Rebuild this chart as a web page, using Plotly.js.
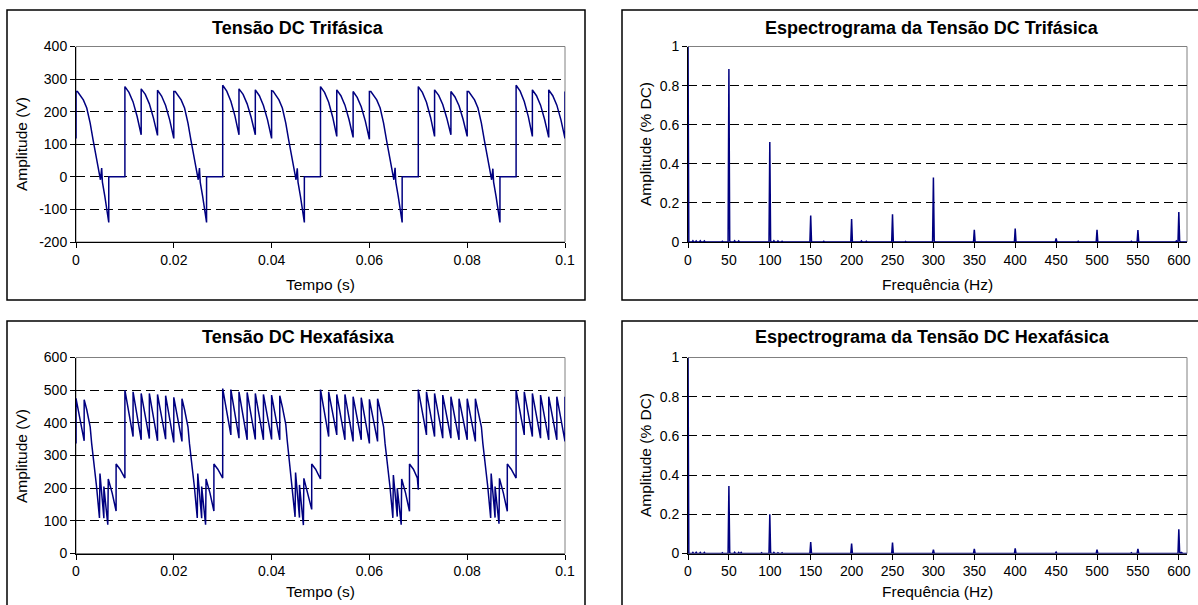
<!DOCTYPE html>
<html><head><meta charset="utf-8">
<script src="https://cdn.plot.ly/plotly-3.0.1.min.js"></script>
<style>html,body{margin:0;padding:0;background:#fff;}#chart{width:1198px;height:605px;}</style>
</head><body><div id="chart"></div>
<script>
// ---------- DATA ----------
// Tensão DC Trifásica : time (s) and amplitude (V)
const triT = [
 0,0,0.0003,0.0008,0.0015,0.0022,0.0029,0.0035,0.0042,0.0048,0.0050,0.00525,0.0054,0.0059,0.0063,0.0067,0.0067,0.0100,
 0.0100,0.01083,0.01167,0.0125,0.01333, 0.01333,0.01417,0.015,0.01583,0.01667, 0.01667,0.0175,0.01833,0.01917,0.0200,
 0.0200,0.0203,0.0208,0.0215,0.0222,0.0229,0.0235,0.0242,0.0248,0.0250,0.02525,0.0254,0.0259,0.0263,0.0267,0.0267,0.0300,
 0.0300,0.03083,0.03167,0.0325,0.03333, 0.03333,0.03417,0.035,0.03583,0.03667, 0.03667,0.0375,0.03833,0.03917,0.0400,
 0.0400,0.0403,0.0408,0.0415,0.0422,0.0429,0.0435,0.0442,0.0448,0.0450,0.04525,0.0454,0.0459,0.0463,0.0467,0.0467,0.0500,
 0.0500,0.05083,0.05167,0.0525,0.05333, 0.05333,0.05417,0.055,0.05583,0.05667, 0.05667,0.0575,0.05833,0.05917,0.0600,
 0.0600,0.0603,0.0608,0.0615,0.0622,0.0629,0.0635,0.0642,0.0648,0.0650,0.06525,0.0654,0.0659,0.0663,0.0667,0.0667,0.0700,
 0.0700,0.07083,0.07167,0.0725,0.07333, 0.07333,0.07417,0.075,0.07583,0.07667, 0.07667,0.0775,0.07833,0.07917,0.0800,
 0.0800,0.0803,0.0808,0.0815,0.0822,0.0829,0.0835,0.0842,0.0848,0.0850,0.08525,0.0854,0.0859,0.0863,0.0867,0.0867,0.0900,
 0.0900,0.09083,0.09167,0.0925,0.09333, 0.09333,0.09417,0.095,0.09583,0.09667, 0.09667,0.0975,0.09833,0.09917,0.1000,
 0.1000
];
const triV = [
 118,262,262,251,236,211,165,113,57,16,-9,27,-16,-60,-100,-140,0,0,
 277,259,230,185,129, 270,253,224,181,127, 266,248,219,174,118,
 262,262,251,236,211,165,113,57,16,-9,27,-16,-60,-100,-140,0,0,
 281,263,232,187,129, 270,253,224,182,129, 267,249,219,175,118,
 264,263,252,236,211,165,113,57,16,-9,26,-16,-60,-100,-140,0,0,
 277,259,229,183,124, 267,249,220,176,121, 262,244,215,171,115,
 262,262,251,236,211,165,113,57,16,-9,28,-16,-60,-100,-140,0,0,
 277,259,229,183,124, 267,250,222,180,129, 262,245,218,176,124,
 262,262,251,236,211,165,113,57,16,-9,25,-16,-60,-100,-140,0,0,
 281,263,231,185,124, 267,249,220,176,121, 267,249,220,175,118,
 262
];

// Tensão DC Hexafásixa : time (s) and amplitude (V)
const hexT = [
 0,0,0.00167,0.00167,0.0022,0.0029,0.0032,0.0035,0.0039,0.0042,0.0048,
 0.0049,0.0057,0.0057,0.0065,0.0066,0.0074,0.0082,0.0082,0.0090,0.0100,
 0.0100,0.01167,0.01167,0.01333,0.01333,0.015,0.015,0.01667,0.01667,0.01833,0.01833,0.02,0.02,0.02167,0.02167,
 0.0222,0.0229,0.0232,0.0235,0.0239,0.0242,0.0248,
 0.0249,0.0257,0.0257,0.0265,0.0266,0.0274,0.0282,0.0282,0.0290,0.0300,
 0.0300,0.03167,0.03167,0.03333,0.03333,0.035,0.035,0.03667,0.03667,0.03833,0.03833,0.04,0.04,0.04167,0.04167,
 0.0422,0.0429,0.0432,0.0435,0.0439,0.0442,0.0448,
 0.0449,0.0457,0.0457,0.0465,0.0466,0.0474,0.0482,0.0482,0.0490,0.0500,
 0.0500,0.05167,0.05167,0.05333,0.05333,0.055,0.055,0.05667,0.05667,0.05833,0.05833,0.06,0.06,0.06167,0.06167,
 0.0622,0.0629,0.0632,0.0635,0.0639,0.0642,0.0648,
 0.0649,0.0657,0.0657,0.0665,0.0666,0.0674,0.0682,0.0682,0.0690,0.0698,0.0700,
 0.0700,0.07167,0.07167,0.07333,0.07333,0.075,0.075,0.07667,0.07667,0.07833,0.07833,0.08,0.08,0.08167,0.08167,
 0.0822,0.0829,0.0832,0.0835,0.0839,0.0842,0.0848,
 0.0849,0.0857,0.0857,0.0865,0.0866,0.0874,0.0882,0.0882,0.0890,0.0900,
 0.0900,0.09167,0.09167,0.09333,0.09333,0.095,0.095,0.09667,0.09667,0.09833,0.09833,0.1,0.1
];
const hexV = [
 337,475,345,471,440,388,337,296,256,205,109,
 245,108,205,88,228,185,130,274,258,231,
 500,358,495,348,490,352,490,345,487,350,483,340,478,343,474,
 440,388,337,296,256,205,109,
 245,108,205,88,228,185,130,274,258,231,
 505,363,502,353,495,348,493,349,490,348,487,349,485,348,483,
 449,395,345,300,258,207,112,
 248,110,210,87,230,185,135,274,258,228,
 502,358,495,363,487,348,487,343,480,348,477,337,472,343,474,
 440,388,337,296,256,205,109,
 240,113,200,88,228,185,129,274,258,231,195,
 502,363,495,358,490,353,485,353,480,348,474,348,474,343,474,
 440,388,337,296,256,205,109,
 245,110,205,91,230,185,129,274,258,231,
 500,363,495,358,490,353,485,348,480,348,480,343,480
];

// Espectrograma da Tensão DC Trifásica : frequency (Hz) and amplitude (% DC)
const triFreq = [0,1, 5,6,7, 9,10,11, 14,15,16, 19,20,21, 41,42,43, 49,50,51,52, 56,57,58, 61,62,63,
 99,100,101,102, 104,105,106, 109,110,111, 114,115,116, 149,150,151, 165,166,167, 199,200,201, 211,212,213,
 217,218,219, 249,250,251, 265,266,267, 299,300,301,302, 349,350,351, 399,400,401, 449,450,451, 476,477,478,
 499,500,501, 541,542,543, 549,550,551, 596,597,598, 599,600,601,602, 610];
const triAmp = [1,0, 0,0.006,0, 0,0.005,0, 0,0.006,0, 0,0.005,0, 0,0.004,0, 0,0.885,0.005,0, 0,0.006,0, 0,0.005,0,
 0,0.512,0.005,0, 0,0.006,0, 0,0.005,0, 0,0.004,0, 0,0.136,0, 0,0.004,0, 0,0.117,0, 0,0.005,0,
 0,0.004,0, 0,0.142,0, 0,0.003,0, 0,0.33,0.005,0, 0,0.063,0, 0,0.069,0, 0,0.019,0, 0,0.004,0,
 0,0.063,0, 0,0.004,0, 0,0.061,0, 0,0.005,0, 0,0.153,0.006,0, 0];

// Espectrograma da Tensão DC Hexafásica : frequency (Hz) and amplitude (% DC)
const hexFreq = [0,1, 5,6,7, 9,10,11, 14,15,16, 19,20,21, 41,42,43, 49,50,51,52, 56,57,58, 61,62,63, 64,65,66,
 89,90,91, 99,100,101,102, 104,105,106, 109,110,111, 114,115,116, 149,150,151, 165,166,167, 199,200,201,
 249,250,251, 299,300,301, 349,350,351, 399,400,401, 449,450,451, 499,500,501, 541,542,543, 549,550,551,
 599,600,601,602,603,604,605, 610];
const hexAmp = [1,0, 0,0.005,0, 0,0.006,0, 0,0.005,0, 0,0.005,0, 0,0.004,0, 0,0.344,0.005,0, 0,0.006,0, 0,0.005,0, 0,0.005,0,
 0,0.004,0, 0,0.2,0.005,0, 0,0.005,0, 0,0.004,0, 0,0.004,0, 0,0.058,0, 0,0.003,0, 0,0.051,0,
 0,0.056,0, 0,0.019,0, 0,0.024,0, 0,0.026,0, 0,0.007,0, 0,0.019,0, 0,0.004,0, 0,0.024,0,
 0,0.123,0.006,0,0.005,0.004,0, 0];

// tick labels
const triYTicks = [-200,-100,0,100,200,300,400];
const triYText = ['-200','-100','0','100','200','300','400'];
const hexYTicks = [0,100,200,300,400,500,600];
const specYTicks = [0,0.2,0.4,0.6,0.8,1];
const timeTicks = [0,0.02,0.04,0.06,0.08,0.1];
const freqTicks = [0,50,100,150,200,250,300,350,400,450,500,550,600];

// text
const titles = ['Tensão DC Trifásica','Espectrograma da Tensão DC Trifásica','Tensão DC Hexafásixa','Espectrograma da Tensão DC Hexafásica'];
const xTitles = ['Tempo (s)','Frequência (Hz)'];
const yTitles = ['Amplitude (V)','Amplitude (% DC)'];

// ---------- LAYOUT ----------
const W=1198,H=605;
const fx=p=>p/W, fy=p=>1-p/H;
const FONT='"Liberation Sans", Arial, sans-serif';
const NAVY='#000080';

const L=[76,565], R=[688,1187];
const TOP=[46.5,242], BOT=[357.5,553.5];

function xaxis(px, range, ticks, anchor){
  return {domain:[fx(px[0]),fx(px[1])], range:range, tickvals:ticks, anchor:anchor,
    showgrid:false, zeroline:false, showline:true, linecolor:'#000', linewidth:1,
    ticks:'outside', ticklen:5, tickcolor:'#000', tickwidth:1,
    tickfont:{family:FONT,size:14,color:'#000'}, layer:'below traces', fixedrange:true, automargin:false};
}
function yaxis(py, range, ticks, text, anchor){
  const a = {domain:[fy(py[1]),fy(py[0])], range:range, tickvals:ticks, anchor:anchor,
    showgrid:true, gridcolor:'#000', gridwidth:1, griddash:'9px,5px',
    zeroline:false, showline:true, linecolor:'#000', linewidth:1,
    ticks:'outside', ticklen:5, tickcolor:'#000', tickwidth:1,
    tickfont:{family:FONT,size:14,color:'#000'}, layer:'below traces', fixedrange:true, automargin:false};
  if(text) a.ticktext=text;
  return a;
}

const line={color:NAVY,width:1.5};
const traces=[
  {x:triT,y:triV,type:'scatter',mode:'lines',line:line,xaxis:'x',yaxis:'y',hoverinfo:'skip'},
  {x:triFreq,y:triAmp,type:'scatter',mode:'lines',line:line,xaxis:'x2',yaxis:'y2',hoverinfo:'skip'},
  {x:hexT,y:hexV,type:'scatter',mode:'lines',line:line,xaxis:'x3',yaxis:'y3',hoverinfo:'skip'},
  {x:hexFreq,y:hexAmp,type:'scatter',mode:'lines',line:line,xaxis:'x4',yaxis:'y4',hoverinfo:'skip'}
];

function ann(text,x,y,size,bold,angle){
  return {text:bold?'<b>'+text+'</b>':text, xref:'paper', yref:'paper', x:fx(x), y:fy(y),
    xanchor:'center', yanchor:'middle', showarrow:false, textangle:angle||0,
    font:{family:FONT,size:size,color:'#000'}};
}
function box(x0,y0,x1,y1){
  return {type:'rect',xref:'paper',yref:'paper',x0:fx(x0),x1:fx(x1),y0:fy(y1),y1:fy(y0),
    line:{color:'#000',width:1.5},layer:'above'};
}
function frame(n){
  const s=n===1?'':n;
  return {type:'rect',xref:'x'+s+' domain',yref:'y'+s+' domain',x0:0,x1:1,y0:0,y1:1,
    line:{color:'#808080',width:1},layer:'below'};
}

const layout={
  width:W,height:H,margin:{l:0,r:0,t:0,b:0},paper_bgcolor:'#fff',plot_bgcolor:'#fff',
  showlegend:false,
  xaxis: xaxis(L,[0,0.1],timeTicks,'y'),
  yaxis: yaxis(TOP,[-200,400],triYTicks,triYText,'x'),
  xaxis2: xaxis(R,[0,610],freqTicks,'y2'),
  yaxis2: yaxis(TOP,[0,1],specYTicks,null,'x2'),
  xaxis3: xaxis(L,[0,0.1],timeTicks,'y3'),
  yaxis3: yaxis(BOT,[0,600],hexYTicks,null,'x3'),
  xaxis4: xaxis(R,[0,610],freqTicks,'y4'),
  yaxis4: yaxis(BOT,[0,1],specYTicks,null,'x4'),
  shapes:[frame(1),frame(2),frame(3),frame(4),
    box(7,10,585,300), box(622,10,1215,300), box(7,321,585,640), box(622,321,1215,640)],
  annotations:[
    ann(titles[0],298,28,18,true), ann(titles[1],932,28,18,true),
    ann(titles[2],298,337,18,true), ann(titles[3],932,337,18,true),
    ann(xTitles[0],320,284,15.5), ann(xTitles[1],937,284,15.5),
    ann(xTitles[0],320,591,15.5), ann(xTitles[1],937,591,15.5),
    ann(yTitles[0],21,144,15.5,false,-90), ann(yTitles[1],645,144,15.5,false,-90),
    ann(yTitles[0],21,456,15.5,false,-90), ann(yTitles[1],645,455,15.5,false,-90)
  ]
};
Plotly.newPlot('chart',traces,layout,{staticPlot:true,displayModeBar:false});
</script></body></html>
